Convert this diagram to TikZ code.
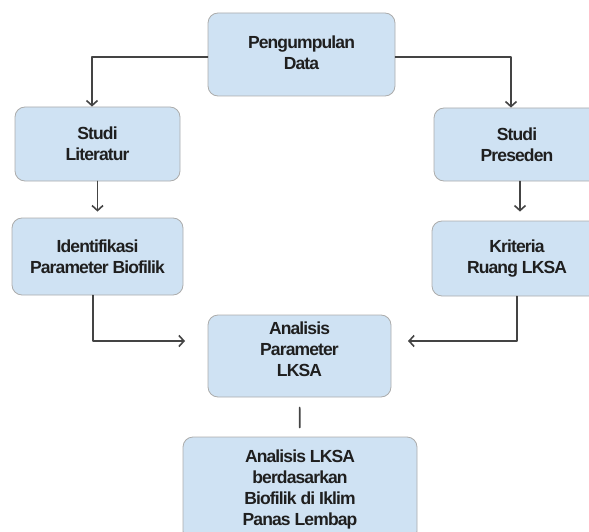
\documentclass[tikz,border=0pt]{standalone}
\usepackage{fontspec}
\setmainfont[LetterSpace=-5]{Liberation Sans}
\usetikzlibrary{arrows.meta}
\definecolor{birumuda}{RGB}{207,226,243}
\definecolor{garis}{RGB}{68,68,68}
\begin{document}
\begin{tikzpicture}[x=1pt, y=-1pt, font=\fontsize{17.5}{21}\selectfont\bfseries, line join=round, line cap=round, >={Straight Barb[length=5pt,width=11pt]},
	kotak/.style={draw=gray!65, line width=0.8pt, fill=birumuda, rounded corners=10pt, align=center, inner sep=0pt, text=black!88},
	panah/.style={->, draw=garis, line width=1.6pt}]
	\useasboundingbox (0,0) rectangle (589,532);
	\clip (0,0) rectangle (589,532) ; % vùng lấy hình
	\node[kotak, minimum width=187pt, minimum height=83pt, text depth=4pt] (data) at (301.5,54.5) {Pengumpulan\\Data};
	\node[kotak, minimum width=165pt, minimum height=74pt] (lit) at (97.5,144) {Studi\\Literatur};
	\node[kotak, minimum width=166pt, minimum height=73pt] (pres) at (517,144.5) {Studi\\Preseden};
	\node[kotak, minimum width=171pt, minimum height=77pt] (ident) at (97.5,256.5) {Identifikasi\\Parameter Biofilik};
	\node[kotak, minimum width=170pt, minimum height=75pt] (krit) at (517,258.5) {Kriteria\\Ruang LKSA};
	\node[kotak, minimum width=183pt, minimum height=82pt, text depth=13pt] (anal) at (299.5,356) {Analisis\\Parameter\\LKSA};
	\node[kotak, minimum width=234pt, minimum height=104pt] (akhir) at (300,489) {Analisis LKSA\\berdasarkan\\Biofilik di Iklim\\Panas Lembap};
	\coordinate (masukKiri) at (185,341);
	\coordinate (masukKanan) at (408,341);
	\draw[panah] ([yshift=-2.5pt]data.west) -| ([xshift=-5.5pt]lit.north);
	\draw[panah] ([yshift=-2.5pt]data.east) -| ([xshift=-6pt]pres.north);
	\draw[panah, shorten >=6pt] (lit) -- (ident);
	\draw[panah, shorten >=9pt] ([xshift=3pt]pres.south) -- ([xshift=3pt]krit.north);
	\draw[panah] ([xshift=-4.5pt]ident.south) |- (masukKiri);
	\draw[panah] (krit.south) |- (masukKanan);
	\draw[draw=garis, line width=1.6pt, shorten <=10pt, shorten >=9pt] (anal) -- (akhir);
\end{tikzpicture}
\end{document}
